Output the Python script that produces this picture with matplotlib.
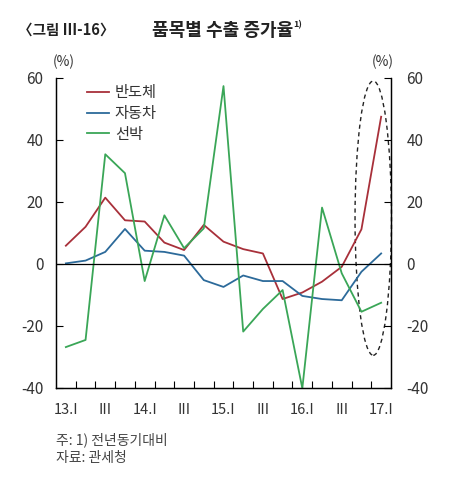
import numpy as np
import matplotlib

matplotlib.use("Agg")
import matplotlib.pyplot as plt  # noqa: E402
from matplotlib.patches import Ellipse  # noqa: E402
from matplotlib.ticker import FixedLocator  # noqa: E402

plt.rcParams["font.family"] = ["Noto Sans CJK KR", "DejaVu Sans"]
plt.rcParams["axes.unicode_minus"] = False

quarters = ["13.I", "II", "III", "IV", "14.I", "II", "III", "IV",
            "15.I", "II", "III", "IV", "16.I", "II", "III", "IV", "17.I"]
semiconductor = [5.9, 12.0, 21.4, 14.1, 13.7, 6.9, 4.5, 12.6, 7.2,
                 4.8, 3.4, -11.3, -9.2, -5.7, -0.9, 11.2, 47.5]
automobile = [0.2, 1.1, 3.9, 11.3, 4.3, 3.9, 2.7, -5.2, -7.4,
              -3.7, -5.5, -5.5, -10.3, -11.3, -11.7, -2.5, 3.4]
ships = [-26.8, -24.5, 35.4, 29.3, -5.5, 15.7, 5.1, 11.5, 57.4,
         -21.8, -14.5, -8.4, -40.1, 18.2, -3.0, -15.4, -12.5]
series_names = ["반도체", "자동차", "선박"]
series_colors = ["#A8303A", "#2C6A9A", "#3AA657"]
y_ticks = [60, 40, 20, 0, -20, -40]

TEXT = "#333333"
LIGHT = "light"

fig = plt.figure(figsize=(4.58, 4.96), dpi=100)
ax = fig.add_axes([56 / 458, 1 - 388 / 496, 335 / 458, 310 / 496])

x = np.arange(len(quarters))
for vals, name, color in zip([semiconductor, automobile, ships], series_names, series_colors):
    ax.plot(x, vals, color=color, lw=1.3, label=name)

ax.axhline(0, color="black", lw=0.9)

ax.set_xlim(-0.5, len(quarters) - 0.5)
ax.set_ylim(-40, 60)

# labels only on every other quarter, tick marks on category boundaries
ax.set_xticks(x[::2])
ax.set_xticklabels([quarters[i] for i in x[::2]], fontsize=10.5, color=TEXT,
                   fontweight=LIGHT)
ax.xaxis.set_minor_locator(FixedLocator(np.arange(0.5, len(quarters) - 1, 1.0)))
ax.tick_params(axis="x", which="major", length=0, pad=11)
ax.tick_params(axis="x", which="minor", direction="in", length=5, width=0.8)

ax.set_yticks(y_ticks)
ax.set_yticklabels([str(v) for v in y_ticks], fontweight=LIGHT)
ax.tick_params(axis="y", direction="in", length=5, width=0.8, labelsize=11,
               labelcolor=TEXT, pad=9)

ax2 = ax.twinx()
ax2.set_ylim(-40, 60)
ax2.set_yticks(y_ticks)
ax2.set_yticklabels([str(v) for v in y_ticks], fontweight=LIGHT)
ax2.tick_params(axis="y", direction="in", length=5, width=0.8, labelsize=11,
                labelcolor=TEXT, pad=11)

for a in (ax, ax2):
    a.spines["top"].set_visible(False)
    for s in ("left", "right", "bottom"):
        a.spines[s].set_linewidth(0.9)

# highlight on the latest quarters
ell = Ellipse((15.6, 14.8), 1.85, 88.5, fill=False, ls=(0, (3, 2.5)),
              lw=1.0, color="#222222", clip_on=False)
ax.add_patch(ell)

leg = ax.legend(loc="upper left", bbox_to_anchor=(0.075, 1.0), frameon=False,
                prop={"size": 11, "weight": LIGHT}, handlelength=1.4,
                handletextpad=0.4, labelspacing=0.25, borderaxespad=0)
for t in leg.get_texts():
    t.set_color(TEXT)

fig.text(64 / 458, 1 - 62 / 496, "(%)", fontsize=10, color=TEXT, ha="center",
         va="center", fontweight=LIGHT)
fig.text(383 / 458, 1 - 62 / 496, "(%)", fontsize=10, color=TEXT, ha="center",
         va="center", fontweight=LIGHT)

fig.text(18 / 458, 1 - 30 / 496, "〈그림 Ⅲ-16〉", fontsize=10.5, fontweight="bold",
         color="#222222", ha="left", va="center")
fig.text(293 / 458, 1 - 30 / 496, "품목별 수출 증가율", fontsize=13,
         fontweight="bold", color="#222222", ha="right", va="center")
fig.text(293 / 458, 1 - 25 / 496, "1)", fontsize=6.5, fontweight="bold",
         color="#222222", ha="left", va="center")

fig.text(56 / 458, 1 - 440 / 496, "주: 1) 전년동기대비", fontsize=10, color="#444444",
         ha="left", va="center", fontweight=LIGHT)
fig.text(56 / 458, 1 - 458 / 496, "자료: 관세청", fontsize=10, color="#444444",
         ha="left", va="center", fontweight=LIGHT)

fig.savefig("out.png", dpi=100)
